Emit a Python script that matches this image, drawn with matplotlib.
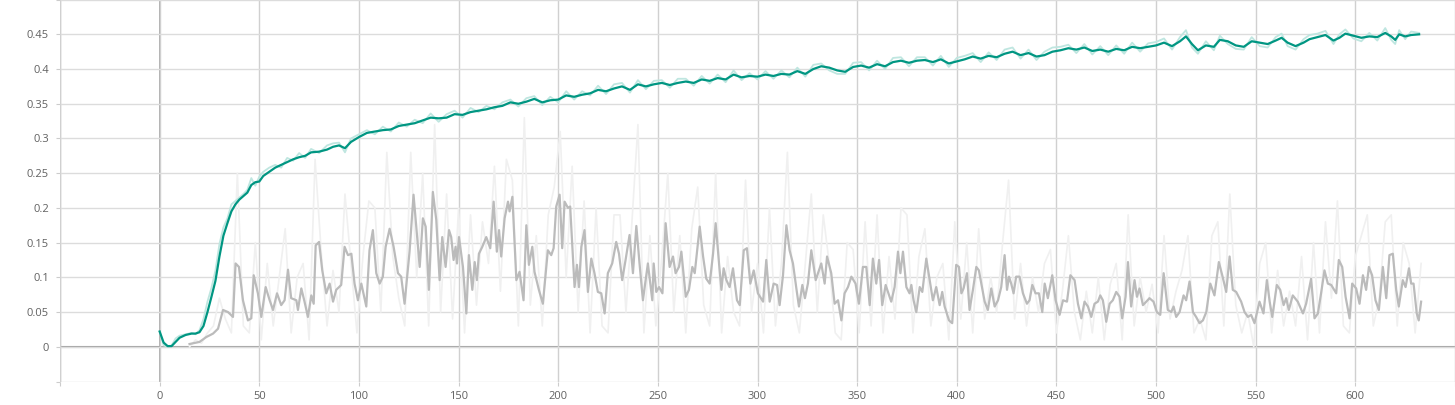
import matplotlib
matplotlib.use('Agg')
import matplotlib.pyplot as plt

# teal run (smoothed + raw)
teal_steps=[0,2,4,6,8,10,13,16,18,20,22,24,26,28,30,32,34,36,38,40,42,44,46,48,50,52,55,58,61,64,67,70,73,76,80,84,87,90,93,96,
    100,104,108,112,116,120,124,128,132,136,140,144,148,152,156,160,164,168,172,176,180,184,188,192,196,
    200,204,208,212,216,220,224,228,232,236,240,244,248,252,256,260,264,268,272,276,280,284,288,292,296,
    300,304,308,312,316,320,324,328,332,336,340,344,348,352,356,360,364,368,372,376,380,384,388,392,396,
    400,404,408,412,416,420,424,428,432,436,440,444,448,452,456,460,464,468,472,476,480,484,488,492,496,
    500,504,508,512,515,518,521,525,529,532,536,540,544,548,552,556,560,563,566,570,574,577,581,585,589,592,595,599,
    603,607,611,615,618,620,622,625,628,632]
teal_smooth=[0.022,0.006,0.001,0.001,0.007,0.013,0.017,0.019,0.019,0.021,0.030,0.050,0.072,0.095,0.130,0.160,0.178,0.195,0.205,0.212,
    0.217,0.222,0.233,0.237,0.238,0.246,0.252,0.258,0.262,0.266,0.270,0.273,0.275,0.280,0.281,0.284,0.288,0.290,0.286,0.295,
    0.302,0.308,0.310,0.312,0.313,0.318,0.320,0.322,0.326,0.330,0.329,0.330,0.335,0.334,0.338,0.340,0.342,0.345,0.347,0.352,0.350,0.353,0.357,0.352,0.355,
    0.356,0.362,0.360,0.363,0.365,0.370,0.368,0.372,0.375,0.370,0.378,0.375,0.378,0.380,0.377,0.380,0.382,0.380,0.385,0.383,0.387,0.385,0.392,0.388,0.390,
    0.389,0.392,0.390,0.393,0.392,0.397,0.393,0.400,0.404,0.402,0.398,0.396,0.403,0.405,0.402,0.407,0.404,0.410,0.412,0.409,0.412,0.413,0.410,0.414,0.408,
    0.411,0.414,0.418,0.415,0.419,0.417,0.422,0.425,0.420,0.423,0.418,0.420,0.425,0.427,0.430,0.428,0.431,0.426,0.428,0.425,0.429,0.427,0.432,0.430,0.432,
    0.434,0.438,0.433,0.440,0.447,0.436,0.427,0.434,0.432,0.442,0.440,0.434,0.432,0.440,0.438,0.436,0.441,0.445,0.438,0.433,0.438,0.443,0.446,0.449,0.441,0.445,0.451,0.448,
    0.445,0.447,0.446,0.452,0.447,0.442,0.450,0.447,0.449,0.450]
teal_raw=[0.022,0.002,0.000,0.002,0.012,0.016,0.018,0.020,0.018,0.024,0.040,0.065,0.085,0.110,0.148,0.172,0.185,0.205,0.210,0.215,
    0.220,0.226,0.243,0.232,0.245,0.252,0.258,0.262,0.258,0.272,0.268,0.279,0.272,0.285,0.279,0.290,0.293,0.294,0.280,0.300,
    0.306,0.312,0.306,0.317,0.310,0.323,0.317,0.327,0.322,0.336,0.324,0.335,0.340,0.330,0.344,0.338,0.347,0.342,0.352,0.356,0.346,0.358,0.361,0.348,0.360,
    0.352,0.368,0.356,0.368,0.362,0.376,0.364,0.378,0.380,0.366,0.384,0.371,0.383,0.384,0.373,0.386,0.386,0.376,0.390,0.379,0.392,0.381,0.398,0.384,0.394,
    0.385,0.397,0.386,0.398,0.388,0.402,0.389,0.406,0.408,0.398,0.393,0.393,0.409,0.410,0.398,0.412,0.400,0.416,0.417,0.404,0.417,0.417,0.405,0.419,0.403,
    0.416,0.419,0.423,0.410,0.424,0.413,0.428,0.431,0.415,0.428,0.413,0.425,0.431,0.432,0.435,0.423,0.436,0.421,0.433,0.420,0.434,0.422,0.438,0.425,0.437,
    0.439,0.444,0.428,0.446,0.456,0.431,0.422,0.440,0.427,0.448,0.436,0.429,0.428,0.446,0.433,0.431,0.446,0.451,0.433,0.428,0.443,0.449,0.451,0.455,0.436,0.450,0.457,0.444,
    0.440,0.452,0.441,0.459,0.442,0.436,0.456,0.443,0.454,0.452]

# grey run (smoothed)
grey_steps=[15,20,23.4,26.8,29.3,31.8,34.3,36.8,38.1,39.8,41.8,44.3,46,47.2,49.3,51,53.2,55.2,56.9,58.9,61,62.7,64.4,66,68.6,69.4,
    71.1,72.7,74.4,76.1,77.3,78.3,80,81.6,83.6,85.3,87,88.6,91.1,92.8,94.5,96.2,97.8,99.5,101.2,103.7,105.3,107,108.7,110.4,
    112,113.4,115.4,117.4,119.6,121.2,122.9,125.4,127.4,129.6,130.5,132.1,133.5,135.1,137.1,138.8,140.5,141.8,143.5,145.2,
    146.3,147.5,148.5,149.2,150.2,152.2,153.9,155.2,156.9,158.1,159.2,160.2,161.9,163.9,165.9,167.6,169.2,170.3,171.4,173.1,
    174.8,175.6,177,179,180.6,182.6,184,185.3,187,188.1,190.3,192.3,194.8,196.5,197.7,199,200.7,202,203.2,204.9,206,208.2,
    209.4,210.4,211.6,213.2,214.9,216.6,218.2,219.9,221.6,223.3,224.9,227.1,229.1,230.5,232.1,233.8,235.8,237.5,239.2,240.8,
    242.5,245,247.2,247.9,249.2,250.6,252.3,253.9,255.9,257.6,258.9,260.6,261.8,264,265.6,267.3,268.5,271,272.7,274.3,276,
    277.7,279,280.7,281.9,283,284.4,286,287.7,289.7,291.1,293.1,294.7,296.4,298.1,300.2,302.8,304.4,306.1,308.1,309.8,311.1,
    312.8,314.5,316.1,317.8,319.5,320.8,322.5,323.8,325.3,327,329.2,332,333.7,334.9,337,338.7,340.4,342.1,343.7,345.4,347.1,
    349.2,350.9,352.9,354.6,356.3,357.9,359.6,361,362.6,364.3,367.1,368.8,370.5,371.7,373,374.7,376.3,377.2,378.3,379.7,381.4,
    382.7,384.7,386.4,388,389.7,391.4,392.7,393.9,396.1,397.7,399.7,401.1,402.3,403.4,405.1,406.4,408.1,409.8,411.1,412.3,414,
    415.6,417.3,419,420.7,422.3,424,425.2,426.2,427.3,428.5,429.8,431.5,433.2,435.2,436.5,437.9,439.5,441.2,442.9,444.1,445.7,
    447.9,449.6,451.6,453.3,455.3,457,459.1,460.8,462.5,464.1,465.8,467.5,469.1,470.8,472,473.3,475,476.7,478.3,480,481.7,483,
    484.7,485.9,487.5,489.2,490.4,491.7,493.4,495.1,496.7,498.7,500.4,502.1,503.8,505.9,507.6,508.8,510.1,511.8,513.8,515.1,
    516.8,518.5,520.1,521.8,523.5,525.2,527.2,529.3,531.5,533.2,535.2,536.9,538.5,540.2,542.7,544.4,546.1,547.7,549.4,551.9,
    553.9,555.6,557,558.3,560.6,562.3,564,565.3,566.6,568.6,571.1,573.7,575.3,577.8,579.5,581.2,582.8,584.5,586.2,587.9,590.4,
    591.7,593.4,595.1,597.1,598.4,600.4,602.1,603.8,605.4,606.8,608.4,610.1,611.8,613.8,615.5,617.1,618.8,620.5,621.8,623.8,
    625.2,626.9,628,629.2,630.8,631.8,633]
grey_smooth=[0.004,0.007,0.014,0.019,0.026,0.053,0.050,0.043,0.120,0.115,0.067,0.038,0.041,0.103,0.077,0.043,0.086,0.067,0.053,0.077,0.060,0.067,0.111,0.070,0.067,0.053,
    0.084,0.065,0.043,0.074,0.062,0.146,0.151,0.110,0.077,0.091,0.065,0.082,0.089,0.144,0.132,0.134,0.091,0.067,0.091,0.058,0.139,0.168,0.106,0.091,
    0.101,0.144,0.170,0.144,0.106,0.101,0.062,0.137,0.219,0.146,0.115,0.185,0.173,0.082,0.223,0.183,0.096,0.158,0.115,0.168,
    0.158,0.125,0.144,0.120,0.158,0.115,0.048,0.132,0.082,0.122,0.096,0.134,0.144,0.158,0.142,0.209,0.137,0.168,0.130,0.185,
    0.209,0.195,0.216,0.096,0.108,0.067,0.175,0.118,0.144,0.108,0.082,0.062,0.139,0.132,0.142,0.202,0.219,0.142,0.209,0.200,0.202,0.086,
    0.118,0.086,0.144,0.168,0.079,0.127,0.106,0.079,0.077,0.048,0.106,0.120,0.151,0.134,0.096,0.125,0.161,0.106,0.174,0.120,
    0.067,0.120,0.067,0.120,0.079,0.086,0.077,0.178,0.115,0.130,0.106,0.115,0.137,0.072,0.082,0.115,0.106,0.173,0.130,0.098,0.091,
    0.134,0.178,0.120,0.082,0.113,0.096,0.086,0.113,0.067,0.060,0.139,0.142,0.091,0.110,0.077,0.065,0.125,0.065,0.091,0.089,0.060,
    0.103,0.175,0.139,0.120,0.084,0.058,0.089,0.070,0.091,0.139,0.096,0.120,0.091,0.130,0.106,0.062,0.067,0.038,0.077,0.086,0.101,
    0.091,0.062,0.115,0.115,0.060,0.127,0.091,0.125,0.060,0.089,0.065,0.086,0.137,0.106,0.137,0.086,0.077,0.089,0.067,0.050,0.086,
    0.079,0.127,0.096,0.067,0.086,0.060,0.079,0.058,0.038,0.034,0.118,0.115,0.077,0.084,0.106,0.053,0.082,0.115,0.110,0.091,0.065,
    0.053,0.084,0.058,0.067,0.086,0.132,0.082,0.101,0.091,0.077,0.101,0.101,0.077,0.062,0.067,0.089,0.077,0.077,0.050,0.091,0.070,
    0.103,0.067,0.046,0.067,0.065,0.103,0.096,0.062,0.041,0.065,0.058,0.043,0.062,0.065,0.074,0.067,0.036,0.062,0.067,0.079,0.072,0.041,
    0.072,0.122,0.058,0.096,0.072,0.084,0.060,0.065,0.070,0.065,0.050,0.046,0.106,0.053,0.050,0.058,0.043,0.050,0.074,0.067,
    0.094,0.050,0.043,0.034,0.038,0.050,0.091,0.074,0.122,0.103,0.079,0.130,0.082,0.079,0.065,0.050,0.043,0.046,0.034,0.065,
    0.048,0.096,0.065,0.043,0.089,0.082,0.060,0.070,0.053,0.074,0.065,0.048,0.062,0.098,0.041,0.048,0.077,0.110,0.091,0.089,0.077,
    0.125,0.115,0.072,0.041,0.091,0.084,0.062,0.103,0.082,0.115,0.103,0.067,0.053,0.115,0.070,0.132,0.134,0.082,0.058,0.096,
    0.086,0.113,0.091,0.091,0.048,0.038,0.065]

# grey run (raw)
grey_raw_steps=list(range(15,634,3))
grey_raw=[0.00,0.01,0.005,0.02,0.03,0.07,0.04,0.02,0.25,0.03,0.02,0.15,0.01,0.12,0.03,0.10,0.17,0.02,0.10,0.12,0.01,0.27,0.14,0.03,0.11,0.05,
    0.22,0.12,0.02,0.13,0.21,0.20,0.05,0.28,0.13,0.07,0.03,0.28,0.10,0.25,0.03,0.32,0.05,0.22,0.04,0.20,0.02,0.19,0.06,0.18,0.12,0.26,
    0.08,0.27,0.24,0.03,0.33,0.06,0.16,0.03,0.19,0.23,0.31,0.10,0.26,0.05,0.21,0.02,0.20,0.03,0.02,0.19,0.19,0.05,0.18,0.32,0.02,0.16,
    0.03,0.13,0.25,0.05,0.16,0.02,0.17,0.23,0.06,0.03,0.25,0.02,0.13,0.05,0.03,0.24,0.05,0.12,0.02,0.20,0.03,0.12,0.28,0.06,0.02,0.12,
    0.22,0.05,0.19,0.12,0.02,0.01,0.15,0.14,0.02,0.18,0.03,0.19,0.02,0.13,0.04,0.20,0.19,0.02,0.13,0.17,0.03,0.10,0.12,0.01,0.18,0.04,
    0.15,0.02,0.17,0.04,0.10,0.05,0.15,0.24,0.04,0.12,0.03,0.10,0.05,0.12,0.14,0.02,0.08,0.16,0.05,0.01,0.08,0.02,0.10,0.01,0.09,0.12,
    0.01,0.19,0.03,0.10,0.05,0.09,0.02,0.16,0.04,0.08,0.11,0.16,0.02,0.04,0.01,0.16,0.18,0.03,0.22,0.06,0.02,0.05,0.00,0.12,0.15,0.02,
    0.11,0.03,0.08,0.03,0.13,0.01,0.15,0.02,0.18,0.07,0.21,0.03,0.02,0.13,0.16,0.19,0.03,0.07,0.18,0.19,0.03,0.15,0.12,0.02,0.12]

yticks=[-0.05,0,0.05,0.1,0.15,0.2,0.25,0.3,0.35,0.4,0.45,0.5]
ylabels=['','0','0.05','0.1','0.15','0.2','0.25','0.3','0.35','0.4','0.45','']
xticks=list(range(-50,651,50))
xlabels=['']+[str(x) for x in range(0,601,50)]+['']

plt.rcParams['font.family']=['Open Sans','DejaVu Sans']
fig=plt.figure(figsize=(14.55,4.05),dpi=100)
ax=fig.add_axes([60/1455,23.5/405,1395/1455,381.9/405])

ax.plot(grey_raw_steps,grey_raw,color='#f0f0f0',lw=1.2,zorder=2)
ax.plot(teal_steps,teal_raw,color='#bfe6e0',lw=1.3,zorder=3)
ax.plot(grey_steps,grey_smooth,color='#bbbbbb',lw=1.6,zorder=4)
ax.plot(teal_steps,teal_smooth,color='#009682',lw=1.6,zorder=5)

ax.set_xlim(-50,650)
ax.set_ylim(-0.05,0.5)
ax.set_xticks(xticks)
ax.set_xticklabels(xlabels)
ax.set_yticks(yticks)
ax.set_yticklabels(ylabels)
ax.grid(True,axis='y',color='#dcdcdc',lw=1)
ax.grid(True,axis='x',color='#d0d0d0',lw=1)
ax.axhline(0,color='#a0a0a0',lw=1.5,zorder=1)
ax.axvline(0,color='#a0a0a0',lw=1.2,zorder=1)
ax.axvline(-50,color='#c8c8c8',lw=1,zorder=1)
for s in ax.spines.values():
    s.set_visible(False)
ax.tick_params(axis='both',length=3,color='#cccccc',labelcolor='#616161',labelsize=8)
ax.tick_params(axis='y',pad=5)
ax.tick_params(axis='x',pad=4)

fig.savefig('out.png',dpi=100)
